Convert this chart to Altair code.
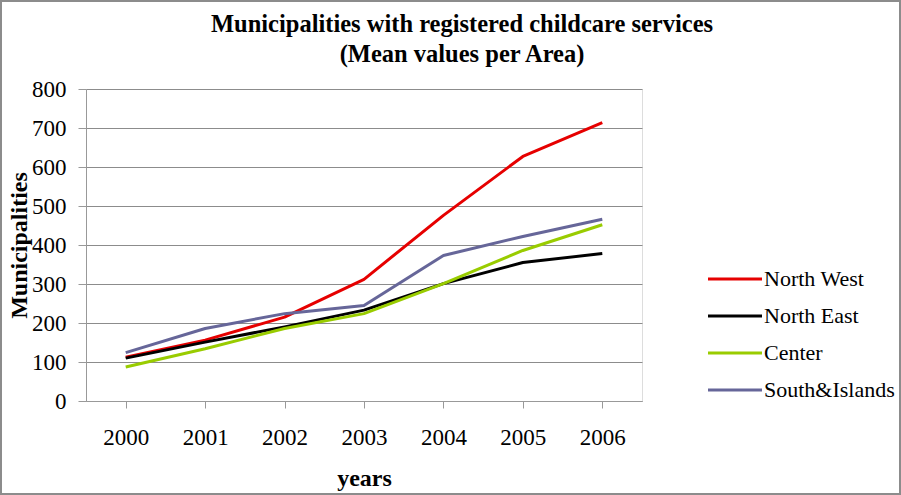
import altair as alt
import pandas as pd

years = ["2000", "2001", "2002", "2003", "2004", "2005", "2006"]
series = ["North West", "North East", "Center", "South&Islands"]
north_west = [112, 156, 215, 312, 476, 627, 714]
north_east = [110, 151, 190, 233, 301, 355, 378]
center = [87, 134, 186, 224, 301, 386, 452]
south_islands = [124, 186, 224, 245, 373, 422, 466]
colors = ["#e60000", "#000000", "#99cc00", "#666699"]

rows = []
for name, vals in zip(series, [north_west, north_east, center, south_islands]):
    for i, (y, v) in enumerate(zip(years, vals)):
        rows.append({"year": y, "area": name, "value": v, "order": series.index(name)})
df = pd.DataFrame(rows)

FONT = "Liberation Serif"
W, H = 556, 312
PL, PT = 86, 89

lines = alt.Chart(df).mark_line(strokeWidth=3, strokeJoin="round").encode(
    x=alt.X("year:O", sort=years,
            scale=alt.Scale(paddingInner=0, paddingOuter=0, align=0.5),
            axis=alt.Axis(title="years", labelAngle=0, bandPosition=0,
                          tickSize=7, labelPadding=18, titlePadding=17,
                          labelFontSize=23, titleFontSize=24, titleFontWeight="bold",
                          labelFont=FONT, titleFont=FONT, domainColor="#999999",
                          tickColor="#999999", labelColor="#000000", titleColor="#000000",
                          grid=False)),
    y=alt.Y("value:Q", scale=alt.Scale(domain=[0, 800], nice=False),
            axis=alt.Axis(title="Municipalities", values=list(range(0, 801, 100)),
                          tickSize=8, labelPadding=12, titlePadding=0,
                          labelFontSize=23, titleFontSize=24, titleFontWeight="bold",
                          labelFont=FONT, titleFont=FONT, domainColor="#999999",
                          tickColor="#999999", gridColor="#8c8c8c", labelColor="#000000",
                          titleColor="#000000")),
    color=alt.Color("area:N", sort=series,
                    scale=alt.Scale(domain=series, range=colors),
                    legend=alt.Legend(title=None, orient="none", legendX=634, legendY=175,
                                      symbolType="M-2,0H2", symbolSize=729,
                                      symbolStrokeWidth=3, labelFontSize=22,
                                      labelFont=FONT, labelColor="#000000",
                                      rowPadding=11, labelOffset=14)),
    order=alt.Order("order:Q"),
    detail="area:N",
)

frame = alt.Chart(pd.DataFrame({"a": [0]})).mark_rect(
    fill=None, stroke="#8c8c8c", strokeWidth=2
).encode(
    x=alt.value(-PL + 1), x2=alt.value(901 - PL - 1),
    y=alt.value(-PT + 1), y2=alt.value(495 - PT - 1),
)

chart = alt.layer(lines, frame).properties(
    width=W, height=H,
    title=alt.TitleParams(
        text=["Municipalities with registered childcare services", "(Mean values per Area)"],
        font=FONT, fontSize=24.5, fontWeight="bold", color="#000000",
        anchor="middle", frame="group", dx=98, dy=67, lineHeight=30, offset=0,
    ),
    autosize=alt.AutoSizeParams(type="none"),
    padding={"left": PL, "top": PT, "right": 901 - PL - W, "bottom": 495 - PT - H},
).configure_view(stroke=None).configure(background="white")

chart.save("out.html", embed_options={"renderer": "svg", "actions": False})
